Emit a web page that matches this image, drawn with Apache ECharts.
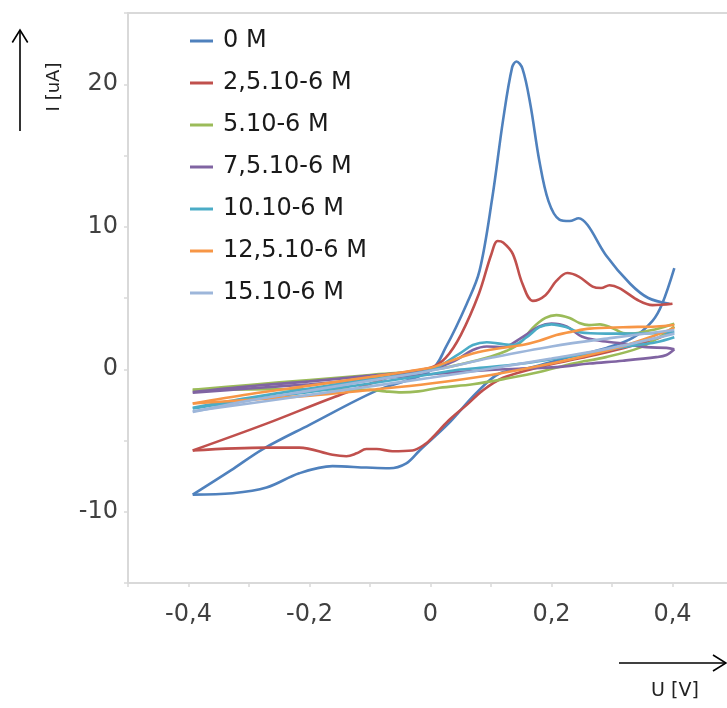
<!DOCTYPE html>
<html>
<head>
<meta charset="utf-8">
<script src="https://cdn.jsdelivr.net/npm/echarts@6/dist/echarts.min.js"></script>
<style>
html,body{margin:0;padding:0;background:#fff;}
#chart{width:727px;height:708px;}
</style>
</head>
<body>
<div id="chart"></div>
<script>
// Legend names (concentrations)
const names = ['0 M', '2,5.10-6 M', '5.10-6 M', '7,5.10-6 M', '10.10-6 M', '12,5.10-6 M', '15.10-6 M'];
const colors = ['#4F81BD', '#C0504D', '#9BBB59', '#8064A2', '#4BACC6', '#F79646', '#9DB6DA'];

// Tick label values
const xTickLabels = [-0.4, -0.2, 0, 0.2, 0.4];
const yTickLabels = [-10, 0, 10, 20];

// [U (V), I (uA)] — anodic (forward) and cathodic (reverse) branches
const c0_fwd = [[-0.393,-8.8],[-0.33,-7.1],[-0.277,-5.6],[-0.2,-3.9],[-0.089,-1.5],[0,-0.1],[0.026,1.6],[0.06,4.6],[0.081,6.9],[0.102,12.0],[0.12,17.5],[0.135,21.2],[0.142,21.6],[0.152,21.1],[0.165,18.6],[0.18,14.6],[0.195,11.8],[0.213,10.5],[0.23,10.4],[0.245,10.6],[0.26,10.1],[0.29,8.0],[0.33,6.0],[0.36,5.0],[0.395,4.6]];
const c0_rev = [[0.403,7.1],[0.383,4.6],[0.367,3.4],[0.334,2.2],[0.291,1.5],[0.225,0.8],[0.164,0.1],[0.114,-0.3],[0.075,-1.7],[0.03,-3.8],[-0.018,-5.7],[-0.04,-6.6],[-0.068,-6.95],[-0.106,-6.9],[-0.162,-6.8],[-0.217,-7.3],[-0.271,-8.3],[-0.327,-8.7],[-0.393,-8.8]];

const c25_fwd = [[-0.393,-5.7],[-0.27,-3.8],[-0.162,-2.0],[-0.05,-0.3],[0,0.1],[0.025,0.8],[0.05,2.4],[0.08,5.3],[0.1,8.0],[0.111,9.0],[0.12,8.9],[0.136,8.1],[0.152,6.0],[0.169,4.8],[0.19,5.2],[0.208,6.2],[0.226,6.75],[0.245,6.5],[0.268,5.8],[0.282,5.7],[0.296,5.9],[0.312,5.7],[0.345,4.8],[0.367,4.5],[0.40,4.6]];
const c25_rev = [[0.40,2.6],[0.37,2.1],[0.32,1.5],[0.25,0.8],[0.18,0.15],[0.12,-0.6],[0.086,-1.5],[0.06,-2.5],[0.03,-3.6],[0.003,-4.8],[-0.007,-5.2],[-0.03,-5.7],[-0.063,-5.75],[-0.089,-5.6],[-0.106,-5.6],[-0.122,-5.9],[-0.139,-6.1],[-0.162,-6.0],[-0.217,-5.5],[-0.271,-5.5],[-0.393,-5.7]];

const c5_fwd = [[-0.393,-1.45],[-0.3,-1.1],[-0.2,-0.75],[-0.1,-0.4],[0,-0.05],[0.05,0.35],[0.1,0.9],[0.126,1.3],[0.147,1.8],[0.169,2.9],[0.19,3.6],[0.208,3.8],[0.23,3.6],[0.246,3.25],[0.262,3.1],[0.28,3.15],[0.3,2.9],[0.318,2.55],[0.335,2.5],[0.36,2.7],[0.38,2.9],[0.403,3.2]];
const c5_rev = [[0.403,3.0],[0.38,2.3],[0.345,1.5],[0.29,0.85],[0.235,0.4],[0.18,-0.2],[0.126,-0.65],[0.07,-1.05],[0.015,-1.3],[-0.02,-1.55],[-0.048,-1.62],[-0.075,-1.55],[-0.1,-1.45],[-0.2,-1.4],[-0.3,-1.42],[-0.393,-1.45]];

const c75_fwd = [[-0.393,-1.6],[-0.3,-1.2],[-0.2,-0.85],[-0.1,-0.45],[0,0.0],[0.04,0.6],[0.07,1.35],[0.093,1.6],[0.12,1.55],[0.15,2.2],[0.18,3.0],[0.2,3.2],[0.225,3.0],[0.25,2.3],[0.28,2.0],[0.318,1.8],[0.357,1.55],[0.39,1.5],[0.403,1.4]];
const c75_rev = [[0.403,1.4],[0.39,1.0],[0.373,0.85],[0.318,0.6],[0.263,0.4],[0.208,0.15],[0.152,0.05],[0.098,-0.05],[0.043,-0.2],[0,-0.35],[-0.1,-0.7],[-0.2,-1.05],[-0.3,-1.35],[-0.393,-1.65]];

const c10_fwd = [[-0.393,-2.7],[-0.3,-2.0],[-0.2,-1.35],[-0.1,-0.7],[0,-0.05],[0.048,1.1],[0.07,1.7],[0.093,1.9],[0.114,1.8],[0.136,1.7],[0.159,2.25],[0.18,2.95],[0.2,3.15],[0.225,2.95],[0.246,2.6],[0.29,2.5],[0.345,2.5],[0.403,2.6]];
const c10_rev = [[0.403,2.25],[0.373,1.9],[0.318,1.55],[0.263,1.1],[0.208,0.75],[0.152,0.4],[0.098,0.15],[0.043,-0.05],[0,-0.35],[-0.1,-1.0],[-0.2,-1.6],[-0.3,-2.15],[-0.393,-2.75]];

const c125_fwd = [[-0.393,-2.4],[-0.3,-1.75],[-0.2,-1.15],[-0.1,-0.55],[0,0.1],[0.015,0.3],[0.07,1.1],[0.126,1.55],[0.152,1.7],[0.18,2.0],[0.208,2.4],[0.235,2.65],[0.263,2.85],[0.318,2.95],[0.373,3.0],[0.403,3.1]];
const c125_rev = [[0.403,2.9],[0.373,2.4],[0.3,1.4],[0.2,0.4],[0.1,-0.4],[0,-1.0],[-0.1,-1.45],[-0.2,-1.85],[-0.3,-2.15],[-0.393,-2.4]];

const c15_fwd = [[-0.393,-3.0],[-0.3,-2.2],[-0.2,-1.5],[-0.1,-0.8],[0,-0.1],[0.1,0.8],[0.2,1.6],[0.3,2.2],[0.403,2.75]];
const c15_rev = [[0.403,2.5],[0.3,1.5],[0.2,0.75],[0.1,0.05],[0,-0.6],[-0.1,-1.2],[-0.2,-1.8],[-0.3,-2.4],[-0.393,-2.95]];

const branches = [
  [c0_fwd, c0_rev], [c25_fwd, c25_rev], [c5_fwd, c5_rev], [c75_fwd, c75_rev],
  [c10_fwd, c10_rev], [c125_fwd, c125_rev], [c15_fwd, c15_rev]
];

const FONT = 'DejaVu Sans';
const series = [];
branches.forEach((pair, i) => {
  pair.forEach(data => {
    series.push({
      name: names[i],
      type: 'line',
      data: data,
      smooth: 0.35,
      symbol: 'none',
      lineStyle: { color: colors[i], width: 2.6 },
      itemStyle: { color: colors[i] },
      emphasis: { disabled: true }
    });
  });
});

const fmtComma = v => String(v).replace('.', ',');

const chart = echarts.init(document.getElementById('chart'));
chart.setOption({
  animation: false,
  backgroundColor: '#fff',
  grid: { left: 128, top: 13, width: 605, height: 570, outerBoundsMode: 'none', containLabel: false,
          show: true, borderColor: '#d9d9d9', borderWidth: 2, backgroundColor: 'transparent' },
  legend: {
    data: names,
    orient: 'vertical',
    left: 190,
    top: 27,
    padding: 0,
    itemGap: 14,
    itemWidth: 23,
    itemHeight: 3,
    icon: 'rect',
    textStyle: { fontFamily: FONT, fontSize: 24, color: '#1a1a1a', lineHeight: 28, padding: [0, 0, 0, 5] }
  },
  xAxis: {
    type: 'value', min: -0.5, max: 0.5, interval: 0.1,
    axisLine: { show: true, onZero: false, lineStyle: { color: '#d9d9d9', width: 2 } },
    axisTick: { show: true, length: 4, lineStyle: { color: '#d9d9d9', width: 1.5 } },
    splitLine: { show: false },
    axisLabel: {
      margin: 20, fontFamily: FONT, fontSize: 24, color: '#404040',
      formatter: v => {
        const r = Math.round(v * 10) / 10;
        return xTickLabels.some(t => Math.abs(t - r) < 1e-9) ? fmtComma(r) : '';
      }
    }
  },
  yAxis: {
    type: 'value', min: -15, max: 25, interval: 5,
    axisLine: { show: true, onZero: false, lineStyle: { color: '#d9d9d9', width: 2 } },
    axisTick: { show: true, length: 4, lineStyle: { color: '#d9d9d9', width: 1.5 } },
    splitLine: { show: false },
    axisLabel: {
      margin: 10, fontFamily: FONT, fontSize: 24, color: '#404040',
      formatter: v => yTickLabels.indexOf(Math.round(v)) >= 0 ? String(Math.round(v)) : ''
    }
  },
  graphic: [
    { type: 'line', shape: { x1: 20, y1: 131, x2: 20, y2: 30 }, style: { stroke: '#000', lineWidth: 1.6 } },
    { type: 'polyline', shape: { points: [[12.3, 42.5], [20, 30], [27.7, 42.5]] }, style: { stroke: '#000', lineWidth: 1.6, fill: null } },
    { type: 'text', x: 54, y: 87, rotation: Math.PI / 2,
      style: { text: 'I [uA]', fontFamily: FONT, fontSize: 18, fill: '#222', align: 'center', verticalAlign: 'middle' } },
    { type: 'line', shape: { x1: 619, y1: 663, x2: 726, y2: 663 }, style: { stroke: '#000', lineWidth: 1.6 } },
    { type: 'polyline', shape: { points: [[713, 655], [726, 663], [713, 671]] }, style: { stroke: '#000', lineWidth: 1.6, fill: null } },
    { type: 'text', x: 675, y: 691,
      style: { text: 'U [V]', fontFamily: FONT, fontSize: 19, fill: '#222', align: 'center', verticalAlign: 'middle' } }
  ],
  series: series
});
</script>
</body>
</html>
